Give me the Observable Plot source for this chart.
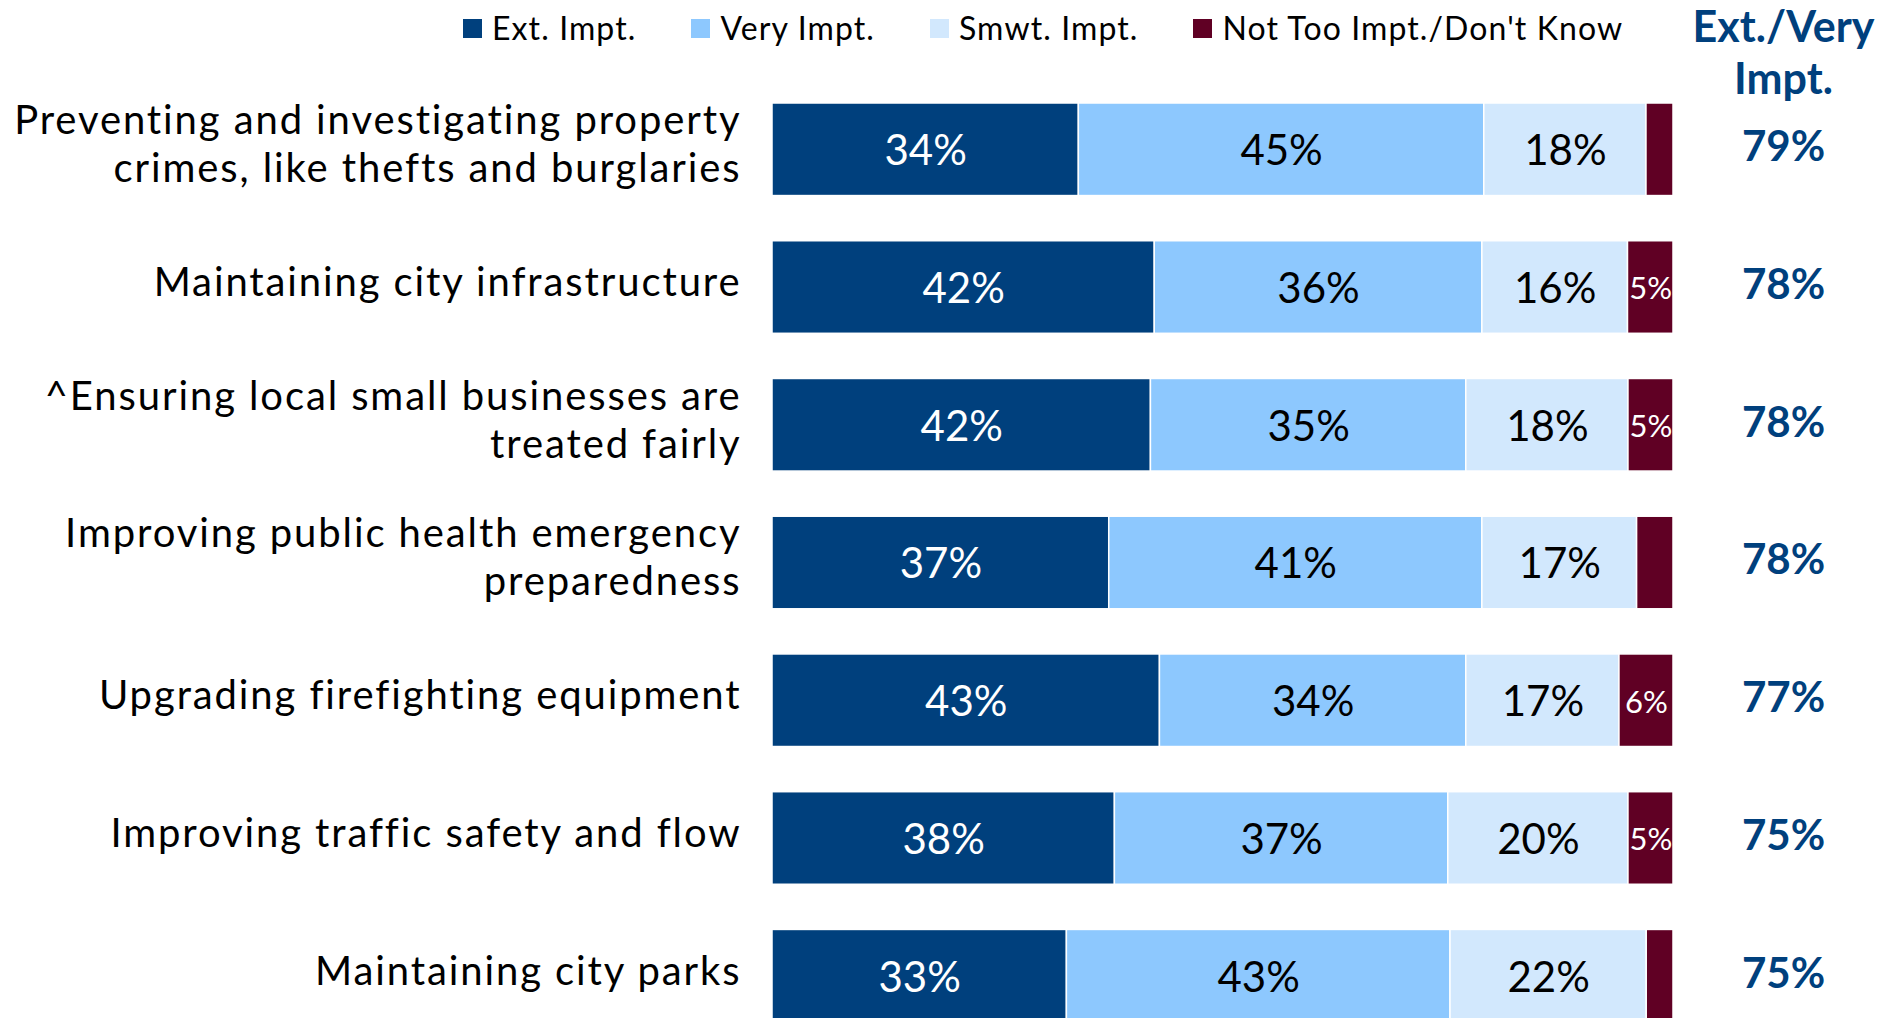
<!DOCTYPE html>
<html><head><meta charset="utf-8">
<script src="https://cdn.jsdelivr.net/npm/d3@7"></script>
<script src="https://cdn.jsdelivr.net/npm/@observablehq/plot@0.6"></script>
<style>
html,body{margin:0;padding:0;overflow:hidden;background:#fff;}
#wrap{position:relative;width:1883px;height:1018px;font-family:Lato,sans-serif;}
#chart{position:absolute;top:0;left:0;}
#legend{position:absolute;top:10px;left:463px;display:flex;align-items:center;gap:55px;font-size:32px;letter-spacing:1.1px;color:#000;line-height:36px;}
.item{display:flex;align-items:center;gap:10px;}
.sw{width:19px;height:19px;display:inline-block;}
</style></head><body><div id="wrap"><div id="chart"></div><div id="legend"></div></div>
<script>
const categories = [
  "Preventing and investigating property\ncrimes, like thefts and burglaries",
  "Maintaining city infrastructure",
  "^Ensuring local small businesses are\ntreated fairly",
  "Improving public health emergency\npreparedness",
  "Upgrading firefighting equipment",
  "Improving traffic safety and flow",
  "Maintaining city parks"
];
const levels = ["Ext. Impt.", "Very Impt.", "Smwt. Impt.", "Not Too Impt./Don't Know"];
const extImpt    = [34, 42, 42, 37, 43, 38, 33];
const veryImpt   = [45, 36, 35, 41, 34, 37, 43];
const smwtImpt   = [18, 16, 18, 17, 17, 20, 22];
const notTooImpt = [3, 5, 5, 4, 6, 5, 3];
const extVeryTotal = [79, 78, 78, 78, 77, 75, 75];
const totalHeader = "Ext./Very\nImpt.";
const colors = ["#00407D", "#8DC8FE", "#D2E8FD", "#600024"];
const darkLevels = ["Ext. Impt.", "Not Too Impt./Don't Know"];

const series = [extImpt, veryImpt, smwtImpt, notTooImpt];
const rows = [];
categories.forEach((c, i) => {
  levels.forEach((l, j) => rows.push({cat: c, level: l, value: series[j][i]}));
});

const stackOpts = {offset: "normalize", order: levels, x: "value", y: "cat", z: "level"};
const label = (dark) => d => (darkLevels.includes(d.level) === dark && d.value >= 5) ? d.value + "%" : "";
const labelSize = d => d.value < 10 ? 31 : 42;

const chart = Plot.plot({
  width: 1883, height: 1022,
  marginTop: 103, marginBottom: 0, marginLeft: 772, marginRight: 210,
  x: {axis: null, domain: [0, 1]},
  y: {axis: null, domain: categories, paddingInner: 0.328, paddingOuter: 0, round: false},
  color: {domain: levels, range: colors},
  style: {fontFamily: "Lato, sans-serif", background: "white"},
  marks: [
    Plot.barX(rows, Plot.stackX({...stackOpts, fill: "level", stroke: "white", strokeWidth: 1.5})),
    Plot.text(rows, Plot.stackX({...stackOpts, text: label(true), fill: "white", fontSize: labelSize, dy: 2})),
    Plot.text(rows, Plot.stackX({...stackOpts, text: label(false), fill: "black", fontSize: labelSize, dy: 2})),
    Plot.text(categories, {y: d => d, text: d => d, frameAnchor: "left", textAnchor: "end",
      dx: -31, dy: -7, fontSize: 40, lineHeight: 1.2, fill: "black"}),
    Plot.text(categories, {y: d => d, text: (d, i) => extVeryTotal[i] + "%", frameAnchor: "right",
      textAnchor: "middle", dx: 110, dy: -2, fontSize: 42, fontWeight: "bold", fill: "#00407D"}),
    Plot.text([totalHeader], {text: d => d, frameAnchor: "top-right", textAnchor: "middle", dx: 110, dy: -52,
      lineAnchor: "middle", lineHeight: 1.2, fontSize: 43, fontWeight: "bold", fill: "#00407D"})
  ]
});
// widen the category labels a little to match the reference's glyph spacing
d3.select(chart).selectAll('g[aria-label="text"]').filter((d, i) => i === 2).style("letter-spacing", "1.9px");
document.getElementById("chart").appendChild(chart);

const legend = document.getElementById("legend");
levels.forEach((l, j) => {
  const it = document.createElement("div");
  it.className = "item";
  const sw = document.createElement("span");
  sw.className = "sw";
  sw.style.background = colors[j];
  const tx = document.createElement("span");
  tx.textContent = l;
  it.appendChild(sw); it.appendChild(tx);
  legend.appendChild(it);
});
</script></body></html>
